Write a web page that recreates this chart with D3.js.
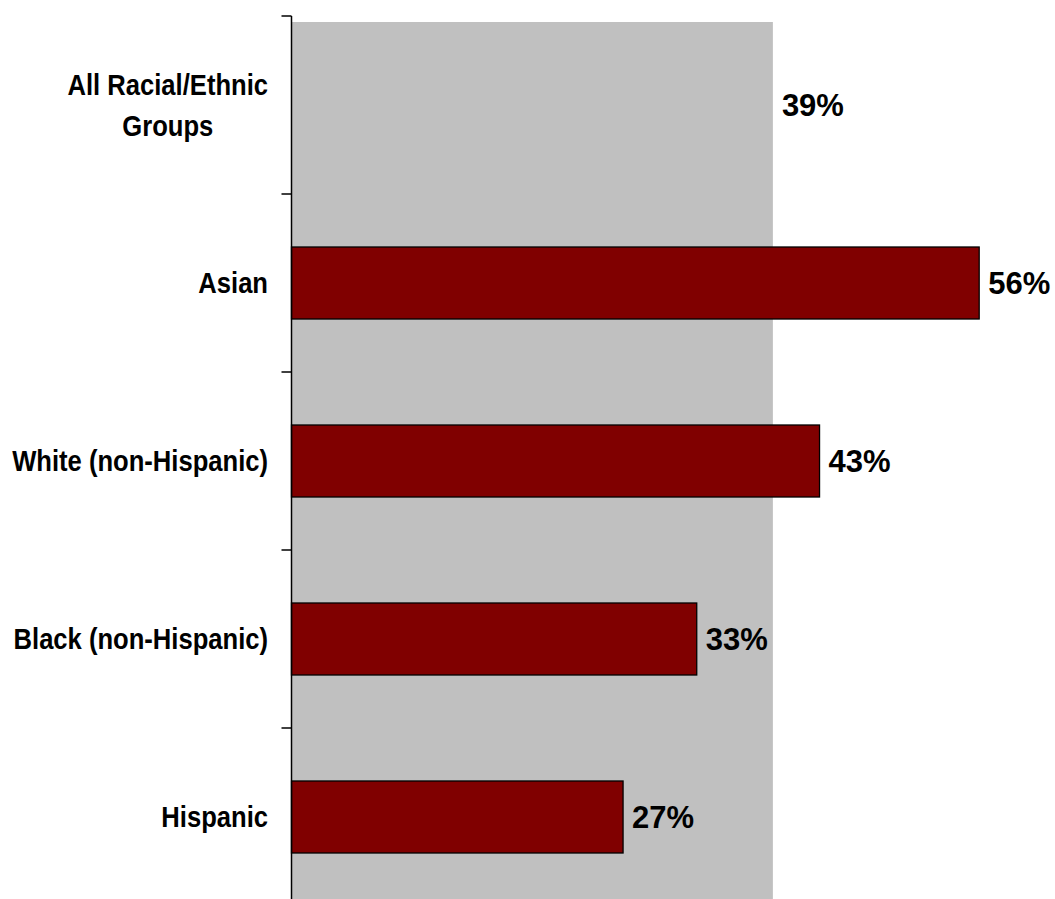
<!DOCTYPE html>
<html lang="en">
<head>
  <meta charset="UTF-8">
  <title>Racial/Ethnic Groups</title>
  <script src="https://d3js.org/d3.v7.min.js"></script>
  <style>
    body { margin: 0; background: #fff; }
    .cat { font-family: "Liberation Sans", Arial, sans-serif; font-weight: bold; font-size: 30px; fill: #000; }
    .val { font-family: "Liberation Sans", Arial, sans-serif; font-weight: bold; font-size: 31px; fill: #000; }
  </style>
</head>
<body>
  <svg width="1055" height="899"></svg>

  <script>
    // categories top to bottom, the first one is drawn as the grey background bar
    const categories = ["All Racial/Ethnic Groups", "Asian", "White (non-Hispanic)", "Black (non-Hispanic)", "Hispanic"];
    const catLines = [["All Racial/Ethnic", "Groups"], ["Asian"], ["White (non-Hispanic)"], ["Black (non-Hispanic)"], ["Hispanic"]];
    const values = [39.2, 56, 43, 33, 27];
    const valueLabels = ["39%", "56%", "43%", "33%", "27%"];

    const svg = d3.select("svg");

    const x = d3.scaleLinear()
        .domain([0, 60])
        .range([291.5, 1028.3]);

    const y = d3.scaleBand()
        .domain(categories)
        .range([16, 906])
        .paddingInner(0.5955)
        .paddingOuter(0.29775);

    const step = y.step();
    const yTop = y.range()[0];
    const yBottom = y.range()[1];

    // grey "all groups" bar spans the whole plot
    svg.append("rect")
        .attr("x", x(0))
        .attr("y", yTop + 6)
        .attr("width", x(values[0]) - x(0))
        .attr("height", yBottom - yTop - 6)
        .attr("fill", "#c0c0c0");

    const rows = categories.map((c, i) => ({ cat: c, lines: catLines[i], value: values[i], label: valueLabels[i] }));

    svg.selectAll("rect.bar")
        .data(rows.slice(1))
        .enter().append("rect")
        .attr("class", "bar")
        .attr("x", x(0))
        .attr("y", d => y(d.cat))
        .attr("width", d => x(d.value) - x(0))
        .attr("height", y.bandwidth())
        .attr("fill", "#800000")
        .attr("stroke", "#000")
        .attr("stroke-width", 1.3);

    // axis line and ticks at band boundaries
    svg.append("line")
        .attr("x1", x(0)).attr("x2", x(0))
        .attr("y1", yTop).attr("y2", yBottom)
        .attr("stroke", "#000")
        .attr("stroke-width", 1.5);

    svg.selectAll("line.tick")
        .data(d3.range(categories.length + 1))
        .enter().append("line")
        .attr("class", "tick")
        .attr("x1", x(0) - 10).attr("x2", x(0))
        .attr("y1", d => yTop + d * step)
        .attr("y2", d => yTop + d * step)
        .attr("stroke", "#000")
        .attr("stroke-width", 1.5);

    // category labels: narrow bold look, squeezed horizontally, right edge at 268
    const catG = svg.selectAll("g.cat")
        .data(rows)
        .enter().append("g")
        .attr("transform", "translate(268,0) scale(0.853,1)");

    const cat = catG.append("text")
        .attr("class", "cat")
        .attr("text-anchor", "middle");

    cat.each(function(d) {
      const t = d3.select(this);
      const n = d.lines.length;
      d.lines.forEach((line, k) => {
        t.append("tspan")
            .attr("x", 0)
            .attr("y", y(d.cat) + y.bandwidth() / 2 + 10.5 + (k - (n - 1) / 2) * 41)
            .text(line);
      });
      const w = this.getBBox().width;
      t.selectAll("tspan").attr("x", -w / 2);
    });

    // value labels
    svg.selectAll("text.val")
        .data(rows)
        .enter().append("text")
        .attr("class", "val")
        .attr("x", d => x(d.value) + 9)
        .attr("y", d => y(d.cat) + y.bandwidth() / 2 + 11)
        .text(d => d.label);
  </script>
</body>
</html>
